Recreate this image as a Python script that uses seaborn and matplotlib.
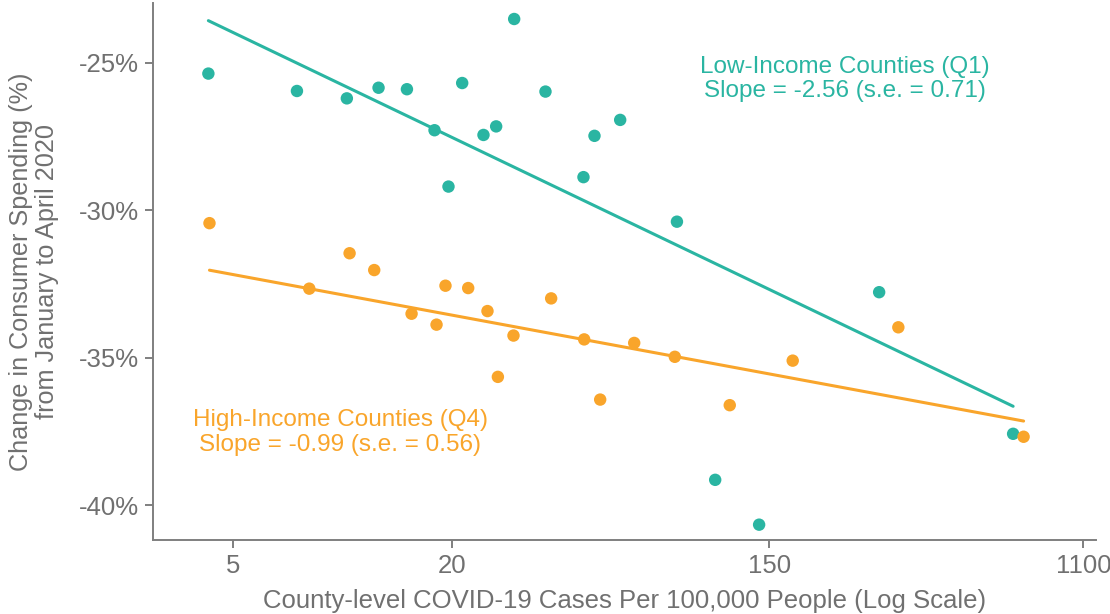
import numpy as np
import pandas as pd
import matplotlib
matplotlib.use("Agg")
import matplotlib.pyplot as plt
from matplotlib.ticker import FixedLocator, FuncFormatter, NullLocator
import seaborn as sns

# Low-income counties (Q1): cases per 100k and change in spending (%)
q1_cases = [4.27, 7.49, 10.28, 12.57, 15.05, 17.93, 19.59, 21.37, 24.46, 26.51,
            29.72, 36.25, 46.13, 49.47, 58.23, 83.47, 106.4, 140.6, 301.1, 704.5]
q1_change = [-25.37, -25.96, -26.21, -25.85, -25.90, -27.29, -29.20, -25.69, -27.45, -27.16,
             -23.52, -25.98, -28.88, -27.48, -26.94, -30.39, -39.14, -40.66, -32.78, -37.58]

# High-income counties (Q4)
q4_cases = [4.30, 8.10, 10.46, 12.23, 15.50, 18.16, 19.22, 22.20, 25.09, 26.80,
            29.59, 37.58, 46.34, 51.29, 63.65, 82.36, 116.7, 174.0, 340.1, 752.9]
q4_change = [-30.44, -32.66, -31.46, -32.03, -33.51, -33.88, -32.56, -32.64, -33.42, -35.65,
             -34.25, -32.99, -34.38, -36.42, -34.50, -34.97, -36.61, -35.10, -33.97, -37.68]

# fitted lines from the chart: change = intercept + slope * ln(cases)
q1_fit = {"intercept": -19.86, "slope": -2.56}
q4_fit = {"intercept": -30.59, "slope": -0.99}

x_ticks = [5, 20, 150, 1100]
y_ticks = [-40, -35, -30, -25]

teal = "#2ab5a2"
orange = "#f9a52b"
grey = "#707070"

df = pd.concat([
    pd.DataFrame({"cases": q1_cases, "change": q1_change, "group": "Q1"}),
    pd.DataFrame({"cases": q4_cases, "change": q4_change, "group": "Q4"}),
])

# fit lines span each group's observed range
fit_rows = []
for grp, fit in [("Q1", q1_fit), ("Q4", q4_fit)]:
    xs = df.loc[df["group"] == grp, "cases"]
    for xv in [xs.min(), xs.max()]:
        fit_rows.append({"cases": xv, "change": fit["intercept"] + fit["slope"] * np.log(xv),
                         "group": grp})
fit_df = pd.DataFrame(fit_rows)

sns.set_theme(style="white")
plt.rcParams["font.family"] = ["Liberation Sans", "DejaVu Sans"]
plt.rcParams["axes.unicode_minus"] = False

fig = plt.figure(figsize=(11.1, 6.14), dpi=100)
ax = fig.add_axes([0.1376, 0.1205, 0.8498, 0.8745])

palette = {"Q1": teal, "Q4": orange}
sns.lineplot(data=fit_df, x="cases", y="change", hue="group", palette=palette,
             lw=2.2, legend=False, ax=ax, zorder=1)
sns.scatterplot(data=df, x="cases", y="change", hue="group", palette=palette,
                s=80, linewidth=0, legend=False, ax=ax, zorder=2)

ax.set_xscale("log")
ax.set_xlim(3.0, 1192)
ax.set_ylim(-41.18, -22.98)
ax.xaxis.set_major_locator(FixedLocator(x_ticks))
ax.xaxis.set_minor_locator(NullLocator())
ax.xaxis.set_major_formatter(FuncFormatter(lambda v, p: f"{v:g}"))
ax.yaxis.set_major_locator(FixedLocator(y_ticks))
ax.yaxis.set_major_formatter(FuncFormatter(lambda v, p: f"{v:.0f}%"))

for side in ["top", "right"]:
    ax.spines[side].set_visible(False)
for side in ["left", "bottom"]:
    ax.spines[side].set_color("#7f7f7f")
    ax.spines[side].set_linewidth(1.4)

ax.tick_params(axis="both", which="major", length=6, width=1.4, color="#7f7f7f",
               labelsize=18.5, labelcolor=grey, direction="out", pad=4,
               bottom=True, left=True)

ax.set_xlabel("County-level COVID-19 Cases Per 100,000 People (Log Scale)",
              fontsize=18.5, color=grey, labelpad=8)
ax.set_ylabel("Change in Consumer Spending (%)\nfrom January to April 2020",
              fontsize=18.2, color=grey, labelpad=14, linespacing=1.1)

ax.text(242.5, -25.55, "Low-Income Counties (Q1)\nSlope = -2.56 (s.e. = 0.71)",
        color=teal, fontsize=17.5, ha="center", va="center", multialignment="center",
        linespacing=1.15)
ax.text(9.86, -37.54, "High-Income Counties (Q4)\nSlope = -0.99 (s.e. = 0.56)",
        color=orange, fontsize=17.5, ha="center", va="center", multialignment="center",
        linespacing=1.15)

fig.savefig("out.png", dpi=100)
